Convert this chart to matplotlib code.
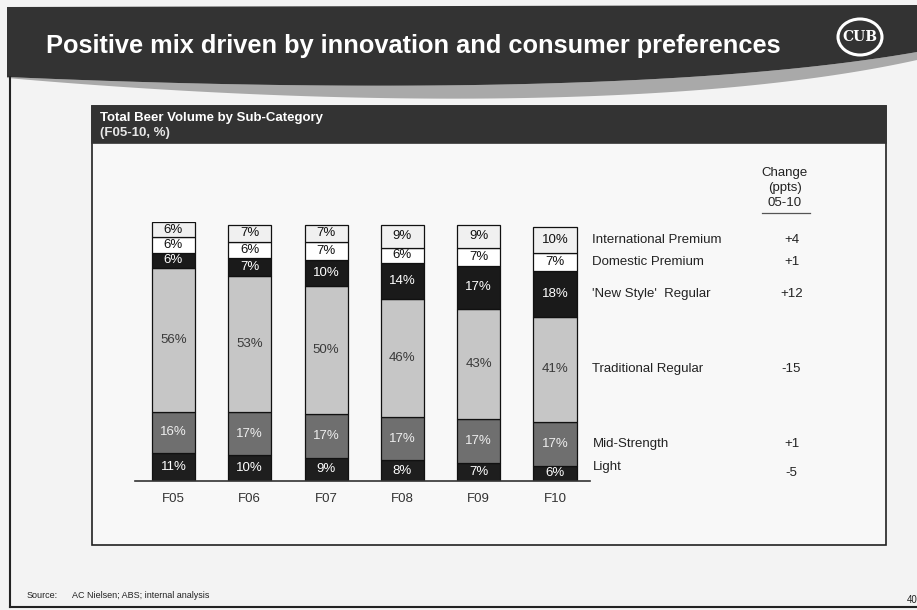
import numpy as np
import matplotlib
matplotlib.use("Agg")
import matplotlib.pyplot as plt
from matplotlib.patches import Rectangle, Polygon, Ellipse

plt.rcParams['font.family'] = ['Liberation Sans', 'DejaVu Sans']

# ---- data -----------------------------------------------------------------
years = ["F05", "F06", "F07", "F08", "F09", "F10"]
segment_names = ["Light", "Mid-Strength", "Traditional Regular",
                 "'New Style'  Regular", "Domestic Premium",
                 "International Premium"]
light = [11, 10, 9, 8, 7, 6]
mid_strength = [16, 17, 17, 17, 17, 17]
traditional = [56, 53, 50, 46, 43, 41]
new_style = [6, 7, 10, 14, 17, 18]
domestic = [6, 6, 7, 6, 7, 7]
international = [6, 7, 7, 9, 9, 10]
change_ppts = ["-5", "+1", "-15", "+12", "+1", "+4"]

series = [light, mid_strength, traditional, new_style, domestic, international]
fills = ["#1e1e1e", "#6f6f6f", "#c6c6c6", "#1a1a1a", "#ffffff", "#f0f0f0"]
text_colors = ["white", "#eeeeee", "#3a3a3a", "white", "#111111", "#111111"]

W, H = 917, 610
PAGE_BG = "#f3f3f3"
DARK = "#333333"

fig = plt.figure(figsize=(W / 100, H / 100), dpi=100, facecolor=PAGE_BG)

# ---- page decoration in pixel coordinates ---------------------------------
bg = fig.add_axes([0, 0, 1, 1], zorder=0)
bg.set_xlim(0, W)
bg.set_ylim(H, 0)
bg.axis("off")


def bezier(p0, p1, p2, p3, n=200):
    t = np.linspace(0, 1, n)[:, None]
    p0, p1, p2, p3 = map(np.asarray, (p0, p1, p2, p3))
    return ((1 - t) ** 3) * p0 + 3 * ((1 - t) ** 2) * t * p1 + \
        3 * (1 - t) * t ** 2 * p2 + t ** 3 * p3


band_bottom = bezier((7, 77), (350, 92), (700, 90), (917, 52))
swoosh_bottom = bezier((7, 78), (350, 108), (700, 108), (917, 60))

# light grey swoosh under the title band
sw = np.vstack([band_bottom, swoosh_bottom[::-1]])
bg.add_patch(Polygon(sw, closed=True, facecolor="#a9a9a9", edgecolor="none"))

# dark title band
band = np.vstack([[(7, 7), (917, 5)], band_bottom[::-1]])
bg.add_patch(Polygon(band, closed=True, facecolor=DARK, edgecolor="none"))

bg.text(46, 46, "Positive mix driven by innovation and consumer preferences",
        color="white", fontsize=18.3, fontweight="bold", ha="left", va="center")

# logo
bg.add_patch(Ellipse((860, 37), 44, 36, facecolor=DARK, edgecolor="white", lw=2.2))
bg.text(860, 37, "CUB", color="white", fontsize=10, fontweight="bold",
        family="DejaVu Serif", ha="center", va="center")

# page frame
bg.plot([10, 10], [77, 607], color="#222222", lw=1.5)
bg.plot([10, 917], [607, 607], color="#222222", lw=1.5)

# chart box with header
bg.add_patch(Rectangle((92, 106), 794, 439, facecolor="#f8f8f8",
                       edgecolor="#222222", lw=1.2))
bg.add_patch(Rectangle((92, 106), 794, 37, facecolor=DARK, edgecolor=DARK, lw=1.2))
bg.text(100, 118, "Total Beer Volume by Sub-Category", color="white",
        fontsize=9.5, fontweight="bold", ha="left", va="center")
bg.text(100, 133, "(F05-10, %)", color="#e6e6e6", fontsize=9.5,
        fontweight="bold", ha="left", va="center")

# change column header
for ty, line in zip((173, 188, 203), ("Change", "(ppts)", "05-10")):
    bg.text(785, ty, line, color="#222222", fontsize=9.5,
            ha="center", va="center")
bg.plot([762, 810], [213, 213], color="#555555", lw=0.9)

# footer
bg.text(27, 596, "Source:", color="#222222", fontsize=6.5, ha="left", va="center")
bg.text(72, 596, "AC Nielsen; ABS; internal analysis", color="#222222",
        fontsize=6.5, ha="left", va="center")
bg.text(907, 600, "40", color="#222222", fontsize=7, ha="left", va="center")

# ---- stacked bar chart ----------------------------------------------------
PX_PER_UNIT = 2.565
base_px, left_px, right_px = 481, 135, 590
ymax = 101
ax = fig.add_axes([left_px / W, (H - base_px) / H,
                   (right_px - left_px) / W, ymax * PX_PER_UNIT / H], zorder=2)
ax.patch.set_alpha(0)

x = np.arange(len(years))
bar_width = 0.565
bottom = np.zeros(len(years))
for vals, fc, tc in zip(series, fills, text_colors):
    vals = np.asarray(vals, dtype=float)
    ax.bar(x, vals, bar_width, bottom=bottom, color=fc,
           edgecolor="#111111", linewidth=0.9, zorder=2)
    for xi, b, v in zip(x, bottom, vals):
        ax.text(xi, b + v / 2, f"{int(v)}%", ha="center", va="center",
                fontsize=9.5, color=tc, zorder=3)
    bottom += vals

# segment names and point changes, aligned with the last bar's segments
last_bottom = 0.0
for name, vals, chg in zip(segment_names, series, change_ppts):
    centre = last_bottom + vals[-1] / 2
    nudge = 2.5 if name == "Light" else 0
    ax.text(5.49, centre + nudge, name, ha="left", va="center",
            fontsize=9.5, color="#222222", clip_on=False)
    ax.text(8.1, centre, chg, ha="center", va="center",
            fontsize=9.5, color="#222222", clip_on=False)
    last_bottom += vals[-1]

ax.set_xlim((left_px - 173.5) / 76.3, (right_px - 173.5) / 76.3)
ax.set_ylim(0, ymax)
ax.set_xticks(x)
ax.set_xticklabels(years)
ax.set_yticks([])
for side in ("top", "left", "right"):
    ax.spines[side].set_visible(False)
ax.spines["bottom"].set_color("#333333")
ax.spines["bottom"].set_linewidth(1.2)
ax.tick_params(axis="x", length=0, pad=9, labelsize=9.5, labelcolor="#333333")

fig.savefig("out.png", dpi=100, facecolor=PAGE_BG)
